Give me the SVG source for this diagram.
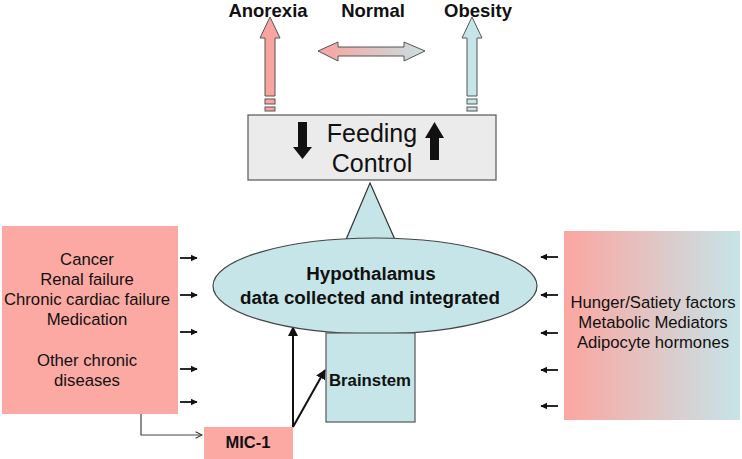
<svg xmlns="http://www.w3.org/2000/svg" width="742" height="459" viewBox="0 0 742 459">
<style>
.t{font-family:"Liberation Sans",Arial,sans-serif;fill:#111;text-anchor:middle}
.b{font-weight:bold}
.reg{font-size:16.7px}
.sm{stroke:#111;stroke-width:1.8;fill:none}
.blue{fill:#c6e5e8}
.pink{fill:#fca9a3}
</style>
<defs>
<linearGradient id="gh" x1="0" y1="0" x2="1" y2="0">
<stop offset="0" stop-color="#fca6a0"/>
<stop offset="1" stop-color="#c6e4e8"/>
</linearGradient>
<linearGradient id="gd" x1="0" y1="0" x2="1" y2="0">
<stop offset="0" stop-color="#f9a39e"/>
<stop offset="1" stop-color="#c9dfe2"/>
</linearGradient>
<marker id="ah" viewBox="0 0 10 10" refX="9" refY="5" markerWidth="4" markerHeight="4" orient="auto">
<path d="M0,0 L10,5 L0,10 z" fill="#111"/>
</marker>
<marker id="ah2" viewBox="0 0 10 10" refX="9" refY="5" markerWidth="5" markerHeight="5" orient="auto">
<path d="M0,0 L10,5 L0,10 z" fill="#111"/>
</marker>
<marker id="chev" viewBox="0 0 10 10" refX="9" refY="5" markerWidth="8" markerHeight="8" orient="auto" markerUnits="userSpaceOnUse">
<path d="M1,1 L9,5 L1,9" fill="none" stroke="#333" stroke-width="1.3"/>
</marker>
</defs>

<g id="labels-top">
<text class="t b" x="268" y="17" font-size="18.5">Anorexia</text>
<text class="t b" x="373" y="17" font-size="18.5">Normal</text>
<text class="t b" x="478" y="17" font-size="18.5">Obesity</text>
</g>

<g id="arrow-anorexia" stroke="#555" stroke-width="1">
<polygon points="270,17 280,38 275,38 275,96 265,96 265,38 260,38" fill="#f8a5a0"/>
<rect x="265" y="99" width="10" height="5" fill="#f8a5a0"/>
<rect x="265" y="107" width="10" height="4" fill="#f8a5a0"/>
</g>
<g id="arrow-obesity" stroke="#555" stroke-width="1">
<polygon points="472,17 482,38 477,38 477,96 467,96 467,38 462,38" fill="#c6e5e8"/>
<rect x="467" y="99" width="10" height="5" fill="#c6e5e8"/>
<rect x="467" y="107" width="10" height="4" fill="#c6e5e8"/>
</g>
<g id="arrow-normal">
<polygon points="318,51 338,42 338,47 404,47 404,42 425,51 404,61 404,56 338,56 338,61" fill="url(#gd)" stroke="#555" stroke-width="1"/>
</g>

<g id="feeding-control">
<rect x="248" y="115" width="248" height="65" fill="#ebebeb" stroke="#555" stroke-width="1.2"/>
<text class="t" x="372" y="142" font-size="25">Feeding</text>
<text class="t" x="372" y="172" font-size="25">Control</text>
<polygon points="298,122 307,122 307,147 312,147 302.5,159 293,147 298,147" fill="#111"/>
<polygon points="434.5,122 444,138 439,138 439,160 430,160 430,138 425,138" fill="#111"/>
</g>

<g id="connectors">
<polygon points="370,183 396,242 345,242" class="blue" stroke="#333" stroke-width="1.2"/>
<line x1="180" y1="258" x2="197" y2="258" class="sm" marker-end="url(#ah)"/>
<line x1="180" y1="295" x2="197" y2="295" class="sm" marker-end="url(#ah)"/>
<line x1="180" y1="332" x2="197" y2="332" class="sm" marker-end="url(#ah)"/>
<line x1="180" y1="369" x2="197" y2="369" class="sm" marker-end="url(#ah)"/>
<line x1="180" y1="402" x2="197" y2="402" class="sm" marker-end="url(#ah)"/>
<line x1="558" y1="257" x2="541" y2="257" class="sm" marker-end="url(#ah)"/>
<line x1="558" y1="295" x2="541" y2="295" class="sm" marker-end="url(#ah)"/>
<line x1="558" y1="333" x2="541" y2="333" class="sm" marker-end="url(#ah)"/>
<line x1="558" y1="370" x2="541" y2="370" class="sm" marker-end="url(#ah)"/>
<line x1="558" y1="406" x2="541" y2="406" class="sm" marker-end="url(#ah)"/>
<polyline points="141,414 141,435 202,435" fill="none" stroke="#444" stroke-width="1.2" marker-end="url(#chev)"/>
<line x1="293" y1="427" x2="293" y2="327" stroke="#111" stroke-width="2" marker-end="url(#ah2)"/>
<line x1="293" y1="427" x2="325" y2="370" stroke="#111" stroke-width="2" marker-end="url(#ah2)"/>
</g>

<g id="hypothalamus">
<ellipse cx="375" cy="286" rx="162" ry="48" class="blue" stroke="#444" stroke-width="1.2"/>
<text class="t b" x="371" y="280" font-size="18.8">Hypothalamus</text>
<text class="t b" x="370" y="304" font-size="18.8">data collected and integrated</text>
</g>

<g id="brainstem">
<rect x="326" y="333" width="89" height="89" class="blue" stroke="#555" stroke-width="1.2"/>
<text class="t b" x="370" y="386" font-size="16.8">Brainstem</text>
</g>

<g id="diseases">
<rect x="2" y="226" width="176" height="188" class="pink"/>
<text class="t reg" x="87" y="265">Cancer</text>
<text class="t reg" x="87" y="285">Renal failure</text>
<text class="t reg" x="87" y="305">Chronic cardiac failure</text>
<text class="t reg" x="87" y="325">Medication</text>
<text class="t reg" x="87" y="366">Other chronic</text>
<text class="t reg" x="87" y="386">diseases</text>
</g>

<g id="factors">
<rect x="564" y="231" width="176" height="189" fill="url(#gh)"/>
<text class="t reg" x="653" y="308">Hunger/Satiety factors</text>
<text class="t reg" x="653" y="328">Metabolic Mediators</text>
<text class="t reg" x="653" y="348">Adipocyte hormones</text>
</g>

<g id="mic1">
<rect x="204" y="427" width="89" height="32" class="pink"/>
<text class="t b" x="248" y="448" font-size="16.5">MIC-1</text>
</g>
</svg>
